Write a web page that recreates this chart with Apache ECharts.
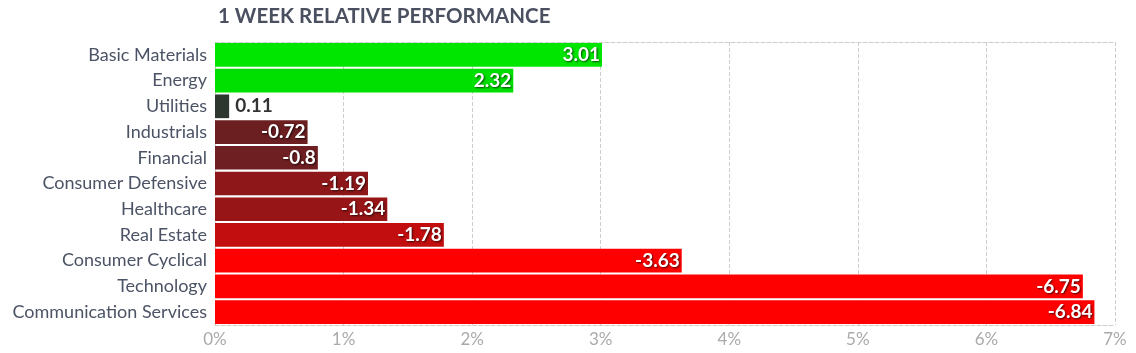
<!DOCTYPE html>
<html>
<head>
<meta charset="utf-8">
<script src="https://cdn.jsdelivr.net/npm/echarts@6/dist/echarts.min.js"></script>
<style>
  html, body { margin: 0; padding: 0; background: #fff; }
  #chart { width: 1136px; height: 353px; }
</style>
</head>
<body>
<div id="chart"></div>
<script>
// sectors, top to bottom
const sectors = [
    'Basic Materials', 'Energy', 'Utilities', 'Industrials', 'Financial',
    'Consumer Defensive', 'Healthcare', 'Real Estate', 'Consumer Cyclical',
    'Technology', 'Communication Services'
];
const performance = [3.01, 2.32, 0.11, -0.72, -0.8, -1.19, -1.34, -1.78, -3.63, -6.75, -6.84];
const barColors = [
    '#00e600', '#00e000', '#2e3630', '#6b1f21', '#6e1f21',
    '#8e1819', '#981517', '#c20e0e', '#ff0000', '#ff0000', '#ff0000'
];
const xTicks = [0, 1, 2, 3, 4, 5, 6, 7];

const chart = echarts.init(document.getElementById('chart'), null, { renderer: 'canvas' });

const fontFamily = 'Lato, "Noto Sans", sans-serif';

const barData = performance.map((v, i) => {
    const small = Math.abs(v) < 0.4;
    return {
        value: Math.abs(v),
        raw: v,
        itemStyle: { color: barColors[i] },
        label: small ? {
            position: 'right',
            color: '#333333',
            textShadowBlur: 0,
            textShadowColor: 'transparent',
            distance: 6
        } : {}
    };
});

chart.setOption({
    animation: false,
    title: {
        text: '1 WEEK RELATIVE PERFORMANCE',
        left: 213,
        top: 1,
        textStyle: {
            fontFamily: fontFamily,
            fontSize: 20.5,
            fontWeight: 'bold',
            color: '#4a5060'
        }
    },
    grid: {
        left: 215,
        right: 21,
        top: 42,
        bottom: 28,
        containLabel: false
    },
    xAxis: [
        {
            type: 'value',
            min: xTicks[0],
            max: xTicks[xTicks.length - 1],
            interval: 1,
            axisLine: { show: true, lineStyle: { color: '#cccccc', type: 'dashed' } },
            axisTick: { show: false },
            axisLabel: {
                formatter: '{value}%',
                color: '#aaaaaa',
                fontFamily: fontFamily,
                fontSize: 17,
                margin: 6
            },
            splitLine: { show: true, lineStyle: { color: '#cccccc', type: 'dashed' } }
        },
        {
            type: 'value',
            position: 'top',
            min: xTicks[0],
            max: xTicks[xTicks.length - 1],
            interval: 1,
            axisLine: { show: true, lineStyle: { color: '#cccccc', type: 'dashed' } },
            axisTick: { show: false },
            axisLabel: { show: false },
            splitLine: { show: false }
        }
    ],
    yAxis: {
        type: 'category',
        inverse: true,
        data: sectors,
        axisLine: { show: false },
        axisTick: { show: false },
        axisLabel: {
            color: '#4b5365',
            fontFamily: fontFamily,
            fontSize: 18,
            margin: 8
        }
    },
    series: [
        {
            type: 'bar',
            data: barData,
            barCategoryGap: '8%',
            label: {
                show: true,
                position: 'insideRight',
                distance: 2,
                formatter: p => String(p.data.raw),
                color: '#ffffff',
                fontFamily: fontFamily,
                fontSize: 19,
                fontWeight: 'bold',
                textShadowColor: 'rgba(0,0,0,0.7)',
                textShadowBlur: 2,
                textShadowOffsetX: 1,
                textShadowOffsetY: 1
            }
        }
    ]
});
</script>
</body>
</html>
